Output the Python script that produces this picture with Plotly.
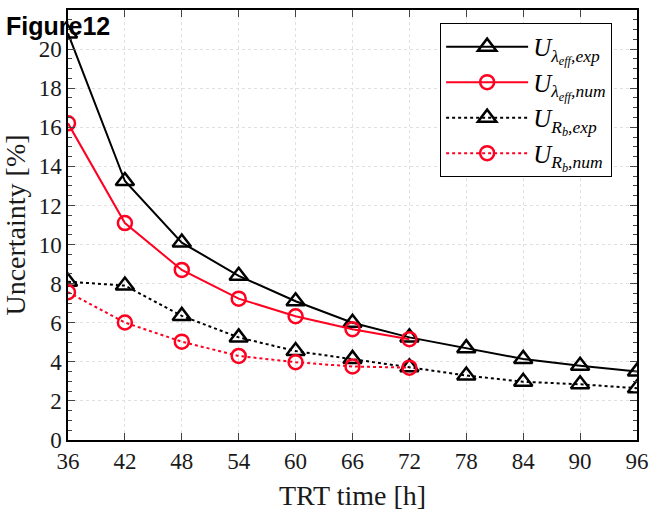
import plotly.graph_objects as go

trt_hours = [36, 42, 48, 54, 60, 66, 72, 78, 84, 90, 96]
trt_hours_num = [36, 42, 48, 54, 60, 66, 72]
u_lambda_exp = [20.8, 13.25, 10.1, 8.4, 7.1, 6.0, 5.25, 4.7, 4.15, 3.8, 3.5]
u_lambda_num = [16.2, 11.1, 8.7, 7.23, 6.33, 5.67, 5.16]
u_rb_exp = [8.1, 7.9, 6.35, 5.25, 4.55, 4.15, 3.72, 3.3, 2.98, 2.85, 2.65]
u_rb_num = [7.56, 6.01, 5.03, 4.3, 3.98, 3.76, 3.7]

names = [
    "<i>U</i><sub><i>λ<sub>eff</sub>,exp</i></sub>",
    "<i>U</i><sub><i>λ<sub>eff</sub>,num</i></sub>",
    "<i>U</i><sub><i>R<sub>b</sub>,exp</i></sub>",
    "<i>U</i><sub><i>R<sub>b</sub>,num</i></sub>",
]

fig = go.Figure()
series = [
    (trt_hours, u_lambda_exp, "black", "solid", "triangle-up-open", names[0]),
    (trt_hours_num, u_lambda_num, "#ff0020", "solid", "circle-open", names[1]),
    (trt_hours, u_rb_exp, "black", "dot", "triangle-up-open", names[2]),
    (trt_hours_num, u_rb_num, "#ff0020", "dot", "circle-open", names[3]),
]
for xs, ys, col, dash, sym, nm in series:
    fig.add_trace(go.Scatter(
        x=xs, y=ys, name=nm, mode="lines+markers",
        line=dict(color=col, width=2, dash=dash),
        marker=dict(symbol=sym, size=16 if "triangle" in sym else 14,
                    color=col, line=dict(width=2.5, color=col)),
    ))

font_serif = "Liberation Serif, Times New Roman, serif"
fig.update_layout(
    width=657, height=514,
    margin=dict(l=68, r=16, t=8, b=73),
    paper_bgcolor="white", plot_bgcolor="white",
    font=dict(family=font_serif, size=23, color="#1a1a1a"),
    showlegend=True,
    legend=dict(
        x=0.654, y=0.97, xanchor="left", yanchor="top",
        bgcolor="white", bordercolor="black", borderwidth=1,
        font=dict(family=font_serif, size=25, color="black"),
        itemwidth=82, tracegroupgap=0,
    ),
    xaxis=dict(
        range=[36, 96], tickvals=trt_hours, ticks="inside", ticklen=7,
        showline=True, linecolor="black", linewidth=1.5, mirror="ticks",
        showgrid=True, gridcolor="#e0e0e0", griddash="dot", gridwidth=1,
        zeroline=False,
        title=dict(text="TRT time [h]", standoff=12),
    ),
    yaxis=dict(
        range=[0, 22], dtick=2, ticks="inside", ticklen=7,
        showline=True, linecolor="black", linewidth=1.5, mirror="ticks",
        showgrid=True, gridcolor="#e0e0e0", griddash="dot", gridwidth=1,
        zeroline=False,
        minor=dict(dtick=0.5, ticks="inside", ticklen=4, showgrid=False),
        title=dict(text="Uncertainty [%]", standoff=6),
    ),
)
fig.add_annotation(
    text="<b>Figure12</b>", xref="paper", yref="paper",
    x=-0.112, y=1.0, xanchor="left", yanchor="top", showarrow=False,
    font=dict(family="Liberation Sans, Arial, sans-serif", size=25, color="black"),
)
fig.write_html("out.html")
